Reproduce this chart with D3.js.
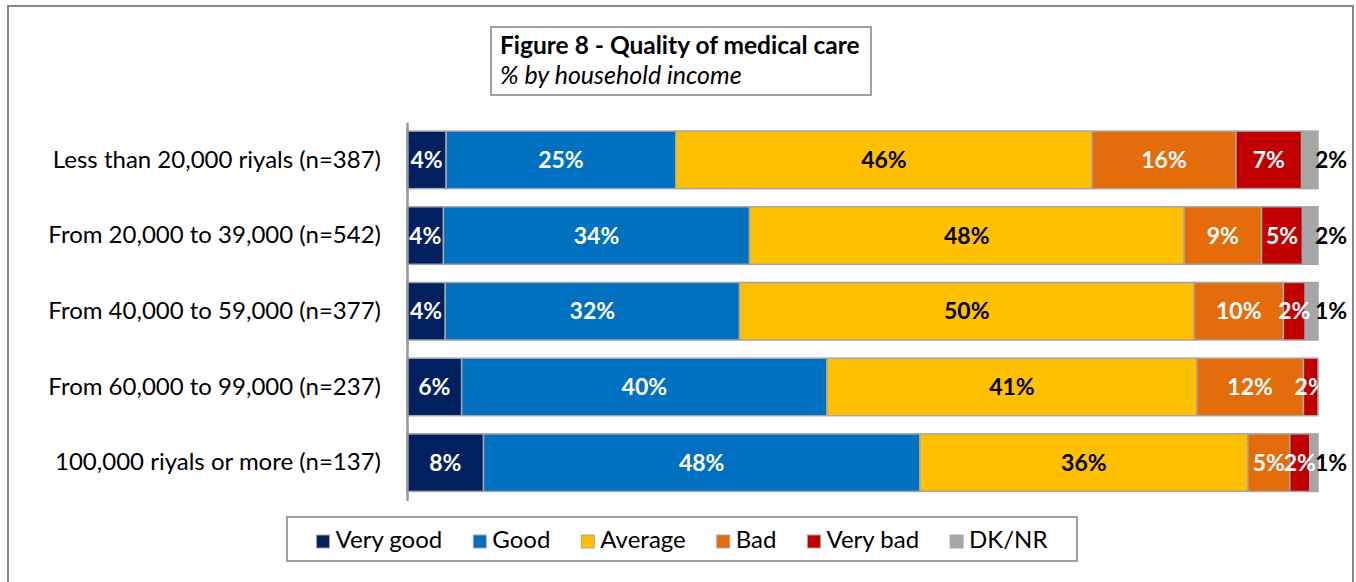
<!DOCTYPE html>
<html>
<head>
<meta charset="utf-8">
<script src="https://cdn.jsdelivr.net/npm/d3@7"></script>
<style>
    body { margin: 0; background: #fff; }
    svg { display: block; font-family: Lato, "Open Sans", sans-serif; }
</style>
</head>
<body>
<div id="chart"></div>
<script>
const ctx = {
    W: 1356,
    H: 582,
};

// income groups, top to bottom
const groups = [
    "Less than 20,000 riyals (n=387)",
    "From 20,000 to 39,000 (n=542)",
    "From 40,000 to 59,000 (n=377)",
    "From 60,000 to 99,000 (n=237)",
    "100,000 riyals or more (n=137)",
];
const answers = ["Very good", "Good", "Average", "Bad", "Very bad", "DK/NR"];
const colors = ["#002060", "#0070C0", "#FFC000", "#E46C0A", "#C00000", "#A6A6A6"];

// % per answer, same order as groups
const veryGood = [4.3, 4.0, 4.2, 6.0, 8.4];
const good     = [25.2, 33.6, 32.3, 40.1, 47.9];
const average  = [45.7, 47.7, 49.9, 40.6, 36.0];
const bad      = [15.8, 8.5, 9.8, 11.7, 4.6];
const veryBad  = [7.2, 4.5, 2.4, 1.6, 2.2];
const dkNr     = [1.8, 1.7, 1.4, 0, 0.9];

function createViz() {
    const svg = d3.select("#chart").append("svg")
        .attr("width", ctx.W)
        .attr("height", ctx.H);

    // outer frame (bottom edge is off the picture)
    svg.append("path")
        .attr("d", "M8,590 V6 H1353 V590")
        .attr("fill", "none")
        .attr("stroke", "#878787")
        .attr("stroke-width", 2);

    const rows = groups.map((g, i) => {
        const r = { group: g };
        [veryGood, good, average, bad, veryBad, dkNr].forEach((s, j) => r[answers[j]] = s[i]);
        return r;
    });
    const series = d3.stack().keys(answers)(rows);

    const x = d3.scaleLinear().domain([0, 100]).range([407, 1318]);
    const y = d3.scaleBand().domain(groups).range([122, 500.5])
        .paddingInner(0.24).paddingOuter(0.12);
    const color = d3.scaleOrdinal().domain(answers).range(colors);

    svg.append("defs").append("clipPath").attr("id", "plotClip")
        .append("rect").attr("x", 407).attr("y", 110).attr("width", 911).attr("height", 400);

    // bars
    svg.append("g")
        .selectAll("g")
        .data(series)
        .join("g")
        .attr("fill", d => color(d.key))
        .selectAll("rect")
        .data(d => d.filter(p => p[1] - p[0] > 0))
        .join("rect")
        .attr("x", d => x(d[0]))
        .attr("y", d => y(d.data.group))
        .attr("width", d => x(d[1]) - x(d[0]))
        .attr("height", y.bandwidth())
        .attr("stroke", "#a6a6a6")
        .attr("stroke-width", 1.5);

    // axis line on the left
    svg.append("g")
        .attr("transform", "translate(407,0)")
        .call(d3.axisLeft(y).tickSize(0).tickPadding(26))
        .call(g => g.select(".domain").attr("stroke", "#999").attr("stroke-width", 2.5))
        .call(g => g.selectAll("text")
            .attr("font-family", "Lato, sans-serif")
            .attr("font-size", 24)
            .attr("fill", "#000"));

    // value labels inside the bars
    const inside = series.filter(s => s.key !== "DK/NR");
    svg.append("g")
        .attr("clip-path", "url(#plotClip)")
        .selectAll("g")
        .data(inside)
        .join("g")
        .selectAll("text")
        .data(d => d.filter(p => p[1] - p[0] > 0).map(p => ({ key: d.key, p })))
        .join("text")
        .attr("x", d => x((d.p[0] + d.p[1]) / 2))
        .attr("y", d => y(d.p.data.group) + y.bandwidth() / 2)
        .attr("dy", "0.35em")
        .attr("text-anchor", "middle")
        .attr("font-size", 23)
        .attr("font-weight", "bold")
        .attr("fill", d => d.key === "Average" ? "#000" : "#fff")
        .text(d => Math.round(d.p[1] - d.p[0]) + "%");

    // DK/NR labels just right of the bar end
    const dk = series.find(s => s.key === "DK/NR");
    svg.append("g")
        .selectAll("text")
        .data(dk.filter(p => p[1] - p[0] > 0))
        .join("text")
        .attr("x", d => x(d[1]) + 13)
        .attr("y", d => y(d.data.group) + y.bandwidth() / 2)
        .attr("dy", "0.35em")
        .attr("text-anchor", "middle")
        .attr("font-size", 23)
        .attr("font-weight", "bold")
        .attr("fill", "#000")
        .text(d => Math.round(d[1] - d[0]) + "%");

    // title box
    svg.append("rect")
        .attr("x", 491).attr("y", 27).attr("width", 380).attr("height", 68)
        .attr("fill", "#fff").attr("stroke", "#a0a0a0").attr("stroke-width", 2);
    svg.append("text")
        .attr("x", 500).attr("y", 54)
        .attr("font-size", 24.5).attr("font-weight", "bold")
        .text("Figure 8 - Quality of medical care");
    svg.append("text")
        .attr("x", 500).attr("y", 84)
        .attr("font-size", 25).attr("font-style", "italic")
        .text("% by household income");

    // legend
    svg.append("rect")
        .attr("x", 287).attr("y", 517).attr("width", 790).attr("height", 44)
        .attr("fill", "#fff").attr("stroke", "#a0a0a0").attr("stroke-width", 2);
    const legend = svg.append("g");
    const items = legend.selectAll("g")
        .data(answers)
        .join("g");
    items.append("rect")
        .attr("width", 13).attr("height", 13)
        .attr("y", -13)
        .attr("fill", d => color(d))
        .attr("stroke", "#a6a6a6").attr("stroke-width", 1);
    items.append("text")
        .attr("x", 19)
        .attr("font-size", 24)
        .text(d => d);
    let cx = 0;
    items.each(function () {
        const w = d3.select(this).select("text").node().getComputedTextLength();
        d3.select(this).attr("transform", `translate(${cx},0)`);
        cx += 19 + w + 31;
    });
    const total = cx - 31;
    legend.attr("transform", `translate(${(287 + 1077) / 2 - total / 2},548)`);
}

createViz();
</script>
</body>
</html>
